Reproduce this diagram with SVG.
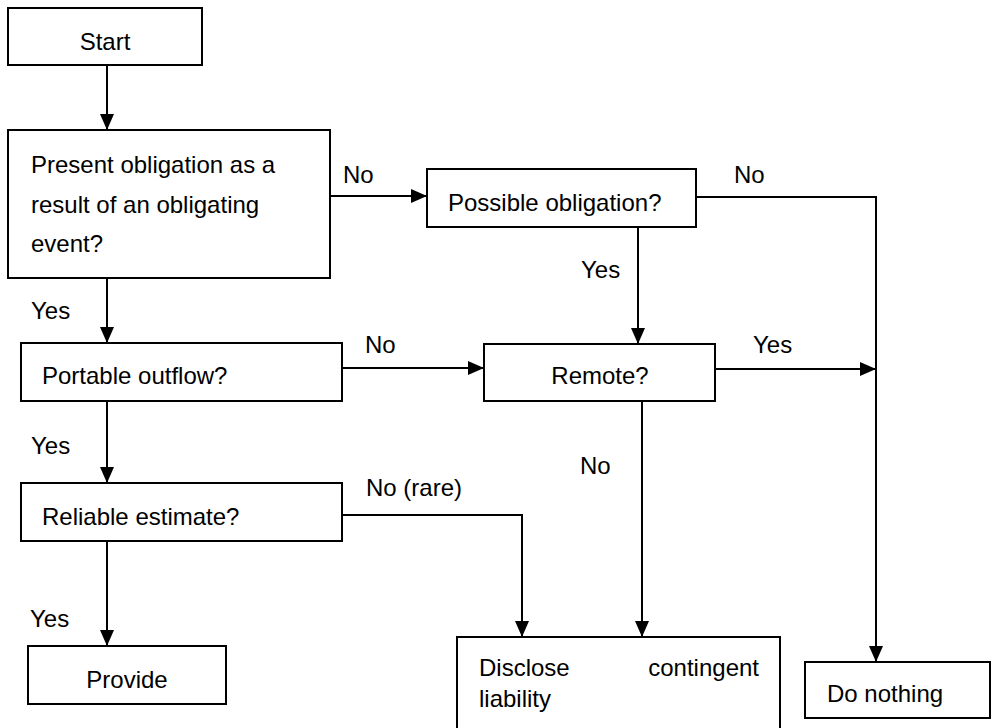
<svg xmlns="http://www.w3.org/2000/svg" width="992" height="728" viewBox="0 0 992 728">
<defs>
<style>
.box{fill:#fff;stroke:#000;stroke-width:2}
.ln{fill:none;stroke:#000;stroke-width:2}
text{font-family:"Liberation Sans",Arial,sans-serif;font-size:24px;fill:#000}
.c{text-anchor:middle}
</style>
<marker id="ah" markerUnits="userSpaceOnUse" markerWidth="16" markerHeight="14" refX="16" refY="7" orient="auto">
<path d="M0,0 L16,7 L0,14 z" fill="#000"/>
</marker>
</defs>
<rect width="992" height="728" fill="#fff"/>
<g id="connectors">
<path class="ln" d="M107,65 V130" marker-end="url(#ah)"/>
<path class="ln" d="M330,196 H427" marker-end="url(#ah)"/>
<path class="ln" d="M696,197 H876 V662" marker-end="url(#ah)"/>
<path class="ln" d="M638,227 V344" marker-end="url(#ah)"/>
<path class="ln" d="M107,278 V343" marker-end="url(#ah)"/>
<path class="ln" d="M342,368 H484" marker-end="url(#ah)"/>
<path class="ln" d="M715,369 H876" marker-end="url(#ah)"/>
<path class="ln" d="M642,401 V637" marker-end="url(#ah)"/>
<path class="ln" d="M107,401 V483" marker-end="url(#ah)"/>
<path class="ln" d="M342,515 H522 V637" marker-end="url(#ah)"/>
<path class="ln" d="M107,541 V646" marker-end="url(#ah)"/>
<text x="343" y="183">No</text>
<text x="734" y="183">No</text>
<text x="581" y="278">Yes</text>
<text x="31" y="319">Yes</text>
<text x="365" y="353">No</text>
<text x="753" y="353">Yes</text>
<text x="31" y="454">Yes</text>
<text x="580" y="474">No</text>
<text x="366" y="496">No (rare)</text>
<text x="30" y="627">Yes</text>
</g>
<g id="start"><rect class="box" x="8" y="8" width="194" height="57"/><text class="c" x="105" y="50">Start</text></g>
<g id="present"><rect class="box" x="8" y="130" width="322" height="148"/>
<text x="31" y="173">Present obligation as a</text>
<text x="31" y="213">result of an obligating</text>
<text x="31" y="252">event?</text></g>
<g id="possible"><rect class="box" x="427" y="169" width="269" height="58"/><text x="448" y="211">Possible obligation?</text></g>
<g id="portable"><rect class="box" x="21" y="343" width="321" height="58"/><text x="42" y="384">Portable outflow?</text></g>
<g id="remote"><rect class="box" x="484" y="344" width="231" height="57"/><text class="c" x="600" y="384">Remote?</text></g>
<g id="reliable"><rect class="box" x="21" y="483" width="321" height="58"/><text x="42" y="525">Reliable estimate?</text></g>
<g id="provide"><rect class="box" x="28" y="646" width="198" height="58"/><text class="c" x="127" y="688">Provide</text></g>
<g id="disclose"><rect class="box" x="457" y="637" width="323" height="100"/>
<text x="479" y="676">Disclose</text><text x="759" y="676" text-anchor="end">contingent</text>
<text x="479" y="707">liability</text></g>
<g id="donothing"><rect class="box" x="805" y="662" width="185" height="56"/><text x="827" y="702">Do nothing</text></g>
</svg>
